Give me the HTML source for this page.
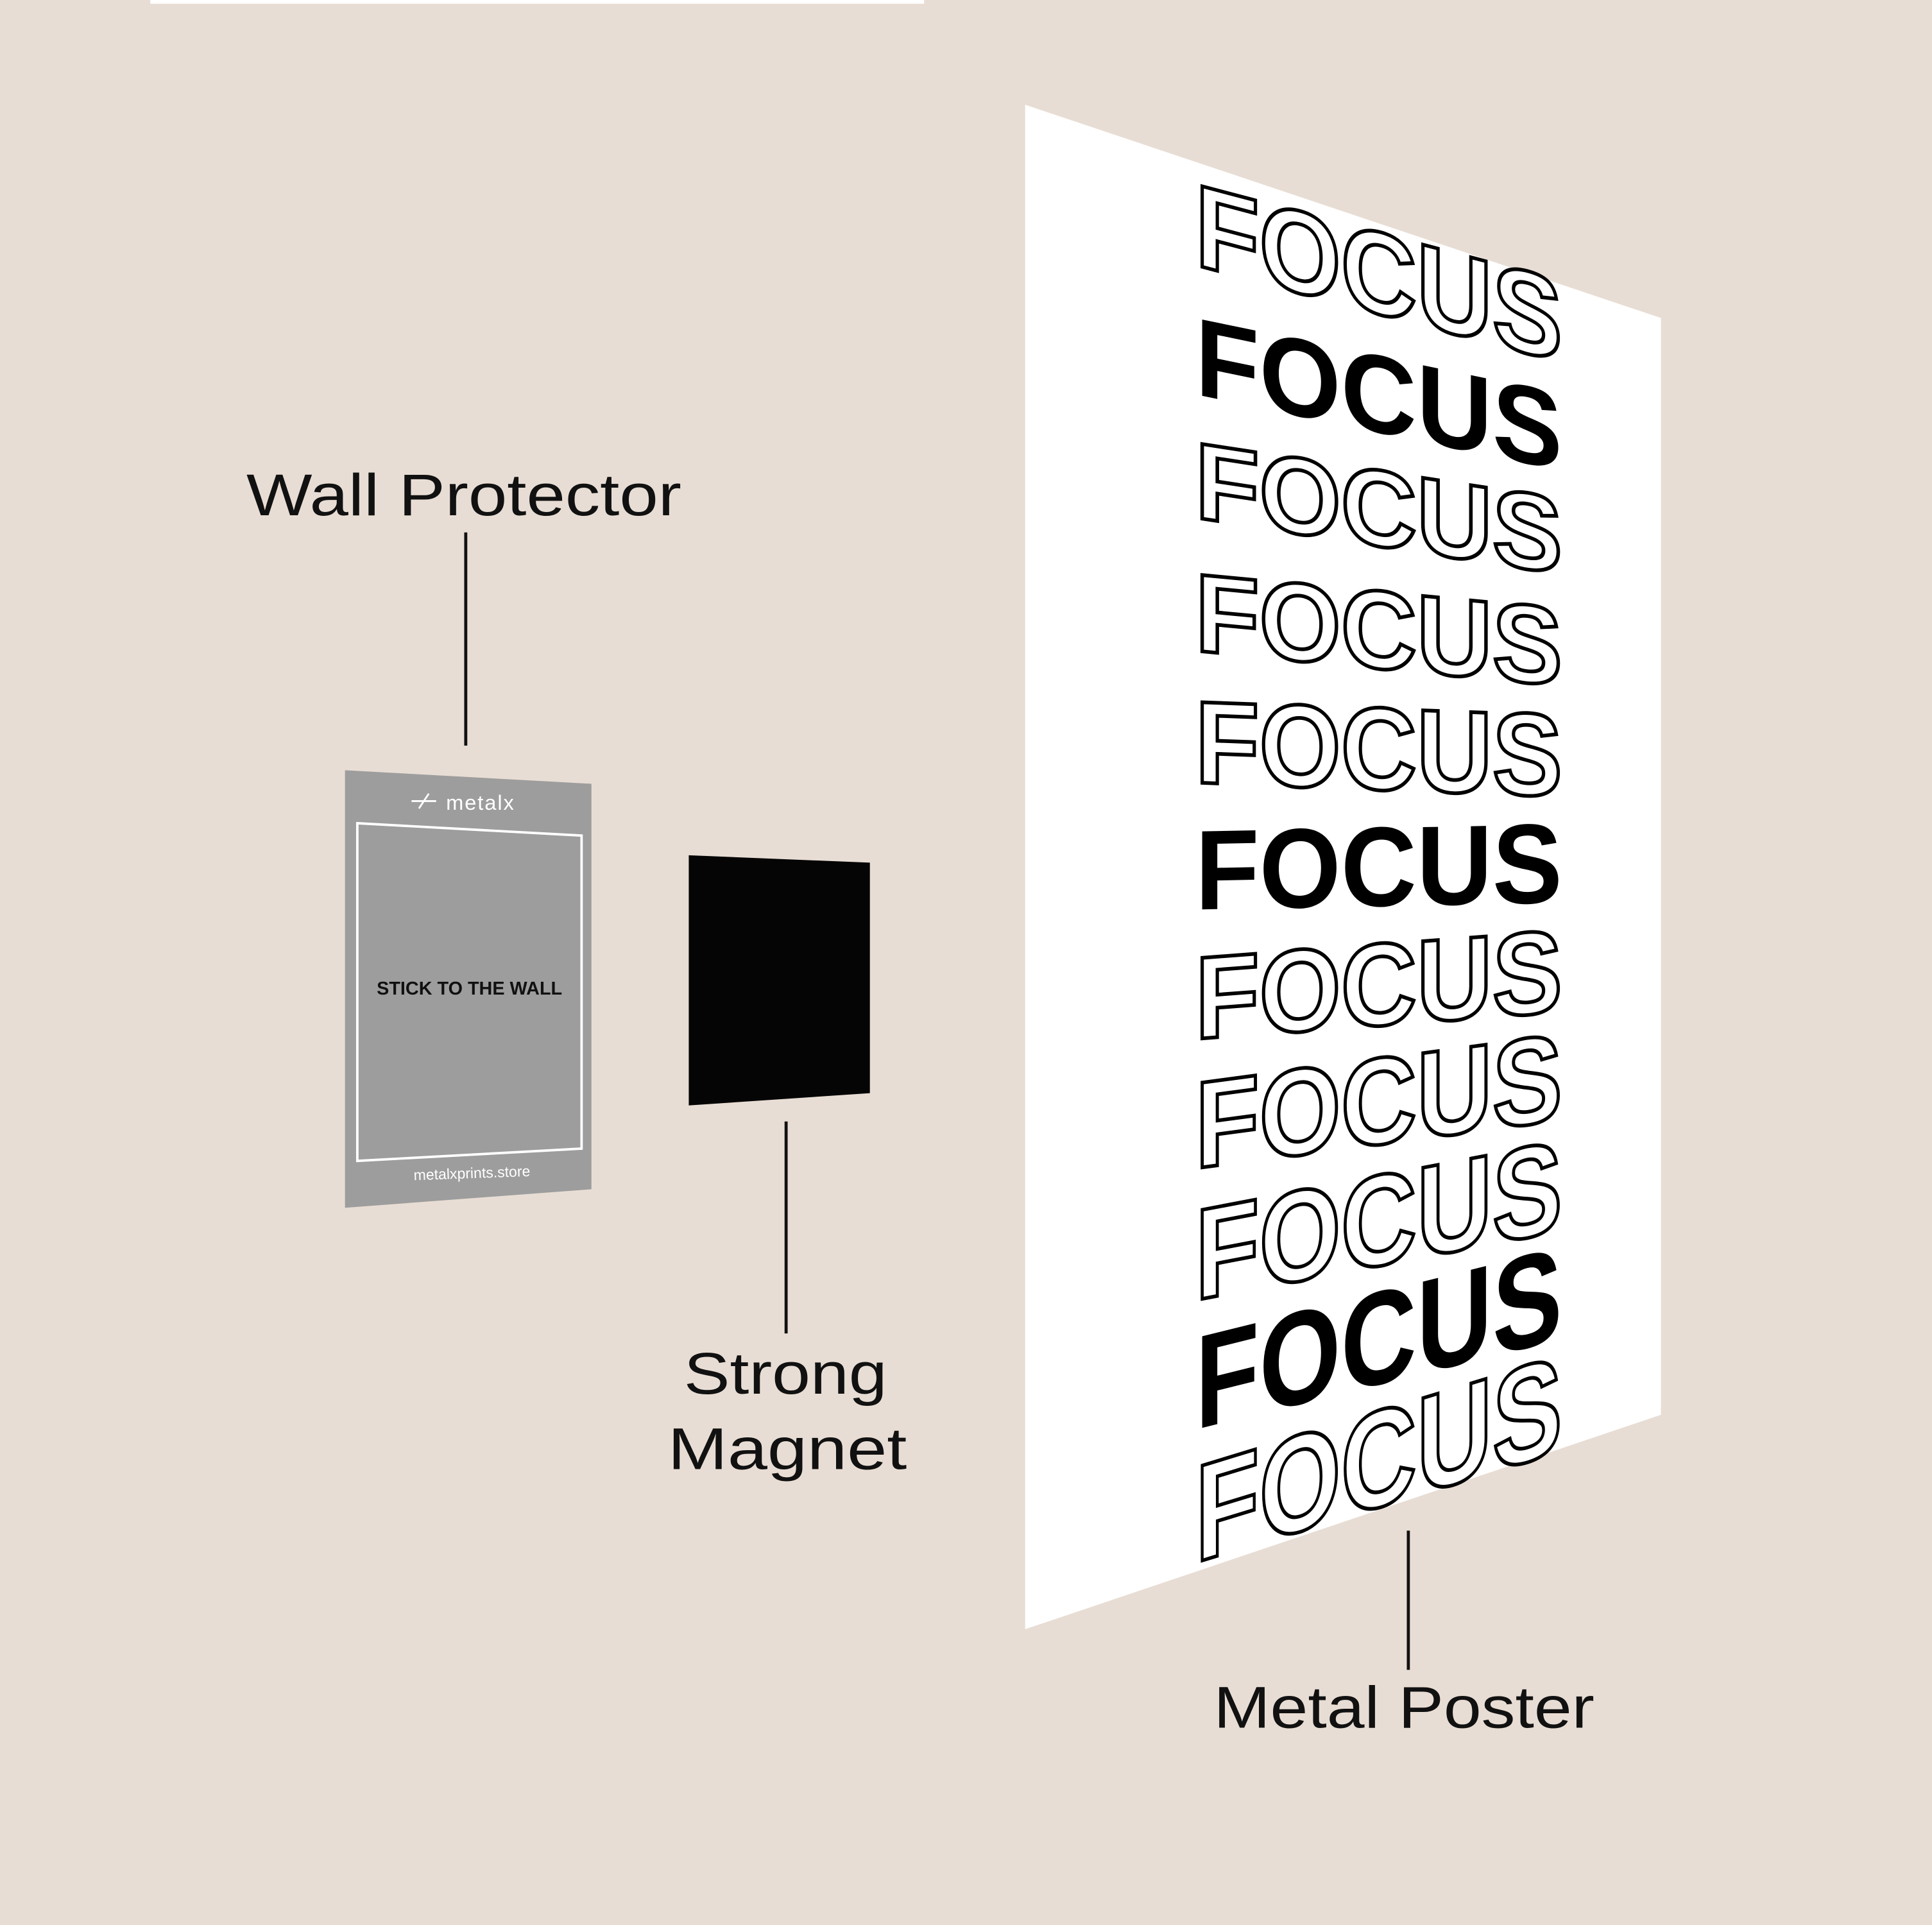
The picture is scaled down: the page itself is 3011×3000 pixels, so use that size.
<!DOCTYPE html>
<html><head><meta charset="utf-8"><style>
html,body{margin:0;padding:0;background:#e8ddd4;}
svg{display:block;}
</style></head><body>
<svg width="3011" height="3000" viewBox="0 0 1568 1562" preserveAspectRatio="none" xmlns="http://www.w3.org/2000/svg">
<rect width="1568" height="1562" fill="#e8ddd4"/>
<rect x="122" y="0" width="628" height="3" fill="#ffffff"/>
<!-- Wall protector -->
<polygon points="280,625 480,636 480,965 280,980" fill="#9d9d9d"/>
<polygon points="290,668 472,678 472,932 290,942" fill="none" stroke="#fff" stroke-width="2"/>
<g stroke="#fff" stroke-width="1.5" fill="none"><line x1="334" y1="650" x2="354" y2="650"/><path d="M340 656 L348 644"/></g>
<text x="362" y="657" font-family="Liberation Sans, sans-serif" font-size="17" fill="#fff" letter-spacing="1">metalx</text>
<text x="381" y="807" text-anchor="middle" font-family="Liberation Sans, sans-serif" font-weight="bold" font-size="15" fill="#111">STICK TO THE WALL</text>
<text x="383" y="956" text-anchor="middle" font-family="Liberation Sans, sans-serif" font-size="12" fill="#fff" transform="rotate(-2 383 952)">metalxprints.store</text>
<!-- Magnet -->
<polygon points="559,694 706,700 706,887 559,897" fill="#050505"/>
<!-- Poster -->
<polygon points="832,85 1348,258 1348,1148 832,1322" fill="#ffffff"/>
<g font-family="Liberation Sans, sans-serif" font-weight="bold">
<text transform="translate(970,215) skewY(14.8)" font-size="95" textLength="298" lengthAdjust="spacingAndGlyphs" fill="#fff" stroke="#000" stroke-width="3">FOCUS</text>
<text transform="translate(970,320) skewY(11.7)" font-size="90" textLength="298" lengthAdjust="spacingAndGlyphs" fill="#000">FOCUS</text>
<text transform="translate(970,420) skewY(8.7)" font-size="88" textLength="298" lengthAdjust="spacingAndGlyphs" fill="#fff" stroke="#000" stroke-width="3">FOCUS</text>
<text transform="translate(970,528) skewY(5.4)" font-size="90" textLength="298" lengthAdjust="spacingAndGlyphs" fill="#fff" stroke="#000" stroke-width="3">FOCUS</text>
<text transform="translate(970,635) skewY(2.1)" font-size="95" textLength="298" lengthAdjust="spacingAndGlyphs" fill="#fff" stroke="#000" stroke-width="3">FOCUS</text>
<text transform="translate(970,738) skewY(-1.1)" font-size="92" textLength="298" lengthAdjust="spacingAndGlyphs" fill="#000">FOCUS</text>
<text transform="translate(970,843) skewY(-4.3)" font-size="95" textLength="298" lengthAdjust="spacingAndGlyphs" fill="#fff" stroke="#000" stroke-width="3">FOCUS</text>
<text transform="translate(970,948) skewY(-7.6)" font-size="100" textLength="298" lengthAdjust="spacingAndGlyphs" fill="#fff" stroke="#000" stroke-width="3">FOCUS</text>
<text transform="translate(970,1055) skewY(-10.8)" font-size="105" textLength="298" lengthAdjust="spacingAndGlyphs" fill="#fff" stroke="#000" stroke-width="3">FOCUS</text>
<text transform="translate(970,1160) skewY(-13.9)" font-size="108" textLength="298" lengthAdjust="spacingAndGlyphs" fill="#000">FOCUS</text>
<text transform="translate(970,1268) skewY(-17)" font-size="112" textLength="298" lengthAdjust="spacingAndGlyphs" fill="#fff" stroke="#000" stroke-width="3">FOCUS</text>
</g>
<!-- Labels -->
<g font-family="Liberation Sans, sans-serif" font-size="48" fill="#111" lengthAdjust="spacingAndGlyphs">
<text x="200" y="418" textLength="353" lengthAdjust="spacingAndGlyphs">Wall Protector</text>
<text x="555" y="1131" textLength="165" lengthAdjust="spacingAndGlyphs">Strong</text>
<text x="542" y="1192" textLength="194" lengthAdjust="spacingAndGlyphs">Magnet</text>
<text x="985" y="1402" textLength="309" lengthAdjust="spacingAndGlyphs">Metal Poster</text>
</g>
<g stroke="#111" stroke-width="2.5">
<line x1="378" y1="432" x2="378" y2="605"/>
<line x1="638" y1="910" x2="638" y2="1082"/>
<line x1="1143" y1="1242" x2="1143" y2="1355"/>
</g>
</svg>
</body></html>
